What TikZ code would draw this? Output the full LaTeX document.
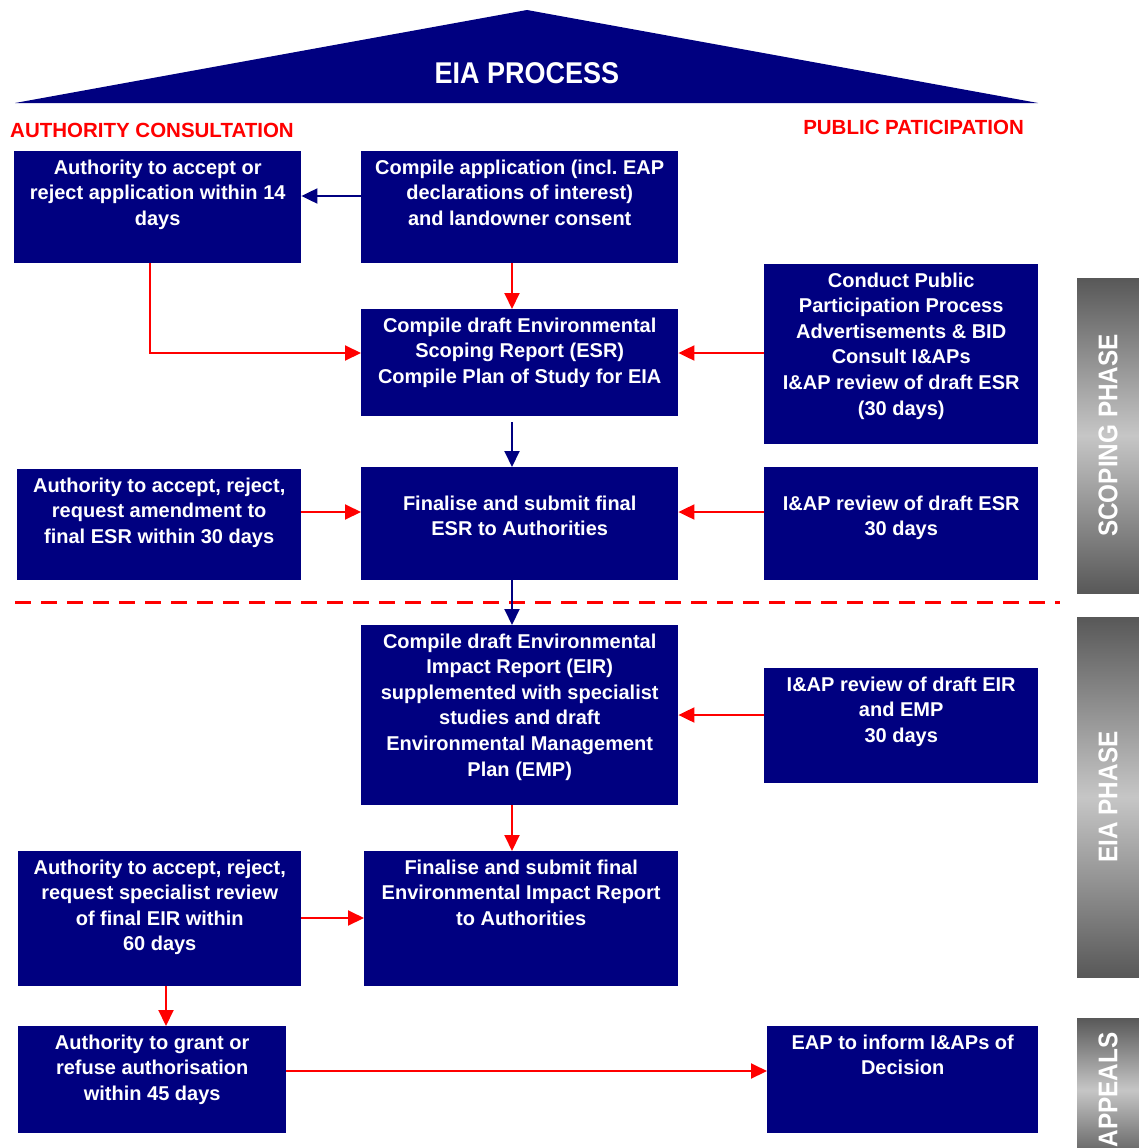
\documentclass[tikz,border=0pt]{standalone}
\usepackage{fontspec}
\setmainfont{Liberation Sans}
\newfontfamily\narrowfont[FakeStretch=0.9]{Liberation Sans}
\usetikzlibrary{arrows.meta,positioning}
\definecolor{eianavy}{RGB}{0,0,128}
\definecolor{eiared}{RGB}{255,0,0}
\definecolor{bardark}{RGB}{88,88,88}
\definecolor{barlight}{RGB}{198,198,198}
\frenchspacing
%% text block of a box: width, height, lines (optional top gap)
\newcommand{\boxtext}[4][5pt]{\parbox[c][#3][t]{#2}{\centering\vspace*{#1}\strut#4\par}}
\tikzset{
    eiabox/.style={fill=eianavy, text=white, anchor=north west, inner sep=0pt,
        font=\bfseries\fontsize{20pt}{25.6pt}\selectfont},
    redlabel/.style={text=eiared, inner sep=0pt, font=\bfseries\fontsize{20.5pt}{21pt}\selectfont},
    phasebar/.style={rotate=90, top color=bardark, bottom color=bardark, middle color=barlight,
        text=white, inner sep=0pt, minimum height=62pt,
        font=\narrowfont\bfseries\fontsize{27pt}{27pt}\selectfont},
    redarrow/.style={draw=eiared, line width=2pt, -{Triangle[length=16pt,width=15pt]}},
    navyarrow/.style={draw=eianavy, line width=2pt, -{Triangle[length=16pt,width=15pt]}}
}
\begin{document}
\begin{tikzpicture}[x=1pt,y=-1pt]
        \useasboundingbox (0,0) rectangle (1139,1148);
        %% Roof
        \fill[eianavy] (15,103) -- (527,10) -- (1038,103) -- cycle;
        \node[text=white, font=\narrowfont\bfseries\fontsize{30pt}{30pt}\selectfont] (title) at (527,73) {EIA PROCESS};
        \node[redlabel, anchor=west] (authlabel) at (10,130) {AUTHORITY CONSULTATION};
        \node[redlabel, anchor=east] (publabel) at (1024,127) {PUBLIC PATICIPATION};

        %% Scoping phase
        \node[eiabox] (appaccept) at (14,151) {\boxtext{287pt}{112pt}{Authority to accept or\\ reject application within 14\\ days}};
        \node[eiabox] (compileapp) at (361,151) {\boxtext{317pt}{112pt}{Compile application (incl. EAP\\ declarations of interest)\\ and landowner consent}};
        \node[eiabox] (draftesr) at (361,309) {\boxtext{317pt}{107pt}{Compile draft Environmental\\ Scoping Report (ESR)\\ Compile Plan of Study for EIA}};
        \node[eiabox] (ppp) at (764,264) {\boxtext{274pt}{180pt}{Conduct Public\\ Participation Process\\ Advertisements \& BID\\ Consult I\&APs\\ I\&AP review of draft ESR\\ (30 days)}};
        \node[eiabox] (esraccept) at (17,469) {\boxtext{284pt}{111pt}{Authority to accept, reject,\\ request amendment to\\ final ESR within 30 days}};
        \node[eiabox] (finalesr) at (361,467) {\boxtext[25pt]{317pt}{113pt}{Finalise and submit final\\ ESR to Authorities}};
        \node[eiabox] (esrreview) at (764,467) {\boxtext[25pt]{274pt}{113pt}{I\&AP review of draft ESR\\ 30 days}};

        \draw[eiared, line width=3pt, dash pattern=on 16pt off 10pt] (15,602) -- (1060,602);

        %% EIA phase
        \node[eiabox] (drafteir) at (361,625) {\boxtext{317pt}{180pt}{Compile draft Environmental\\ Impact Report (EIR)\\ supplemented with specialist\\ studies and draft\\ Environmental Management\\ Plan (EMP)}};
        \node[eiabox] (eirreview) at (764,668) {\boxtext{274pt}{115pt}{I\&AP review of draft EIR\\ and EMP\\ 30 days}};
        \node[eiabox] (eiraccept) at (18,851) {\boxtext{283pt}{135pt}{Authority to accept, reject,\\ request specialist review\\ of final EIR within\\ 60 days}};
        \node[eiabox] (finaleir) at (364,851) {\boxtext{314pt}{135pt}{Finalise and submit final\\ Environmental Impact Report\\ to Authorities}};

        %% Appeals
        \node[eiabox] (grant) at (18,1026) {\boxtext{268pt}{107pt}{Authority to grant or\\ refuse authorisation\\ within 45 days}};
        \node[eiabox] (inform) at (767,1026) {\boxtext{271pt}{107pt}{EAP to inform I\&APs of\\ Decision}};

        %% Phase bars
        \node[phasebar, minimum width=315pt] (scopingbar) at (1108,435.5) {SCOPING PHASE};
        \node[phasebar, minimum width=360pt] (eiabar) at (1108,797) {EIA PHASE};
        \node[phasebar, minimum width=144pt] (appealsbar) at (1108,1090) {APPEALS};

        %% Arrows
        \draw[navyarrow] (compileapp.west |- 0,196) -- (appaccept.east |- 0,196);
        \draw[redarrow] (compileapp.south -| 512,0) -- (draftesr.north -| 512,0);
        \draw[redarrow] (appaccept.south -| 150,0) |- (draftesr.west |- 0,353);
        \draw[redarrow] (ppp.west |- 0,353) -- (draftesr.east |- 0,353);
        \draw[navyarrow, shorten <=6pt] (draftesr.south -| 512,0) -- (finalesr.north -| 512,0);
        \draw[redarrow] (esraccept.east |- 0,512) -- (finalesr.west |- 0,512);
        \draw[redarrow] (esrreview.west |- 0,512) -- (finalesr.east |- 0,512);
        \draw[navyarrow] (finalesr.south -| 512,0) -- (drafteir.north -| 512,0);
        \draw[redarrow] (eirreview.west |- 0,715) -- (drafteir.east |- 0,715);
        \draw[redarrow] (drafteir.south -| 512,0) -- (finaleir.north -| 512,0);
        \draw[redarrow] (eiraccept.east |- 0,918) -- (finaleir.west |- 0,918);
        \draw[redarrow] (eiraccept.south -| 166,0) -- (grant.north -| 166,0);
        \draw[redarrow] (grant.east |- 0,1071) -- (inform.west |- 0,1071);
    \end{tikzpicture}
\end{document}
